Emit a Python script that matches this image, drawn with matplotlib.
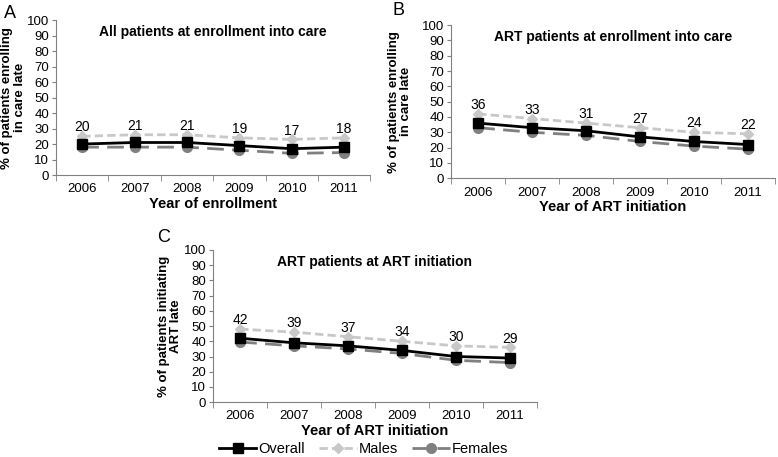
import numpy as np
import matplotlib.pyplot as plt

plt.rcParams['font.family'] = ['Liberation Sans', 'DejaVu Sans']

years = ['2006', '2007', '2008', '2009', '2010', '2011']

# A - all patients at enrollment into care
a_overall = [20, 21, 21, 19, 17, 18]
a_males = [25, 26, 26, 24, 23, 24]
a_females = [18, 18, 18, 16, 14, 14.5]

# B - ART patients at enrollment into care
b_overall = [36, 33, 31, 27, 24, 22]
b_males = [42, 39, 36, 33, 30, 29]
b_females = [33, 30, 28, 24, 21, 19]

# C - ART patients at ART initiation
c_overall = [42, 39, 37, 34, 30, 29]
c_males = [48, 46, 43, 40, 37, 36]
c_females = [39.5, 37, 35, 32, 27.5, 26]

fig = plt.figure(figsize=(7.78, 4.57), dpi=100)

def panel(rect, overall, males, females, title, ylabel, xlabel, letter, letter_xy, ylab_x):
    ax = fig.add_axes(rect)
    x = np.arange(len(years))
    l1, = ax.plot(x, overall, color='black', lw=2, marker='s', ms=7, zorder=3, label='Overall')
    l2, = ax.plot(x, males, color='#c8c8c8', lw=2, ls=(0, (3, 1.5)), marker='D', ms=5.5,
                  zorder=2, label='Males')
    l3, = ax.plot(x, females, color='#808080', lw=2, ls=(0, (6, 3)), marker='o', ms=7,
                  zorder=2, label='Females')
    for xi, v in zip(x, overall):
        ax.text(xi, max(v, males[xi]) + 1.2, str(v), ha='center', va='bottom', fontsize=10)
    ax.set_xlim(-0.5, len(years) - 0.5)
    ax.set_ylim(0, 100)
    ax.set_yticks(range(0, 101, 10))
    ax.set_xticks(x)
    ax.set_xticklabels(years)
    ax.set_xticks(np.arange(-0.5, len(years)), minor=True)
    ax.tick_params(axis='x', which='major', length=0, pad=6, labelsize=9.5)
    ax.tick_params(axis='x', which='minor', length=4, color='#808080')
    ax.tick_params(axis='y', length=3, color='#808080', labelsize=9.5, pad=2)
    for s in ['top', 'right']:
        ax.spines[s].set_visible(False)
    ax.spines['left'].set_color('#808080')
    ax.spines['bottom'].set_color('#808080')
    ax.text(0.5, 0.97, title, transform=ax.transAxes, ha='center', va='top',
            fontsize=10, fontweight='bold')
    ax.set_ylabel(ylabel, fontsize=9.5, fontweight='bold', linespacing=1.1)
    ax.yaxis.set_label_coords(ylab_x, 0.5)
    ax.set_xlabel(xlabel, fontsize=10.5, fontweight='bold', labelpad=1)
    fig.text(letter_xy[0], letter_xy[1], letter, fontsize=13, ha='left', va='top')
    return l1, l2, l3

panel([0.072, 0.617, 0.404, 0.339], a_overall, a_males, a_females,
      'All patients at enrollment into care', '% of patients enrolling\nin care late',
      'Year of enrollment', 'A', (0.005, 0.99), -0.095)
panel([0.580, 0.610, 0.416, 0.335], b_overall, b_males, b_females,
      'ART patients at enrollment into care', '% of patients enrolling\nin care late',
      'Year of ART initiation', 'B', (0.505, 0.995), -0.12)
lines = panel([0.274, 0.120, 0.416, 0.333], c_overall, c_males, c_females,
              'ART patients at ART initiation', '% of patients initiating\nART late',
              'Year of ART initiation', 'C', (0.202, 0.50), -0.095)

fig.legend(lines, [l.get_label() for l in lines], loc='center', bbox_to_anchor=(0.467, 0.018),
           ncol=3, frameon=False, fontsize=10.5, handlelength=2.6, handletextpad=0.1,
           columnspacing=1.0, borderaxespad=0)

fig.savefig('out.png', dpi=100)
